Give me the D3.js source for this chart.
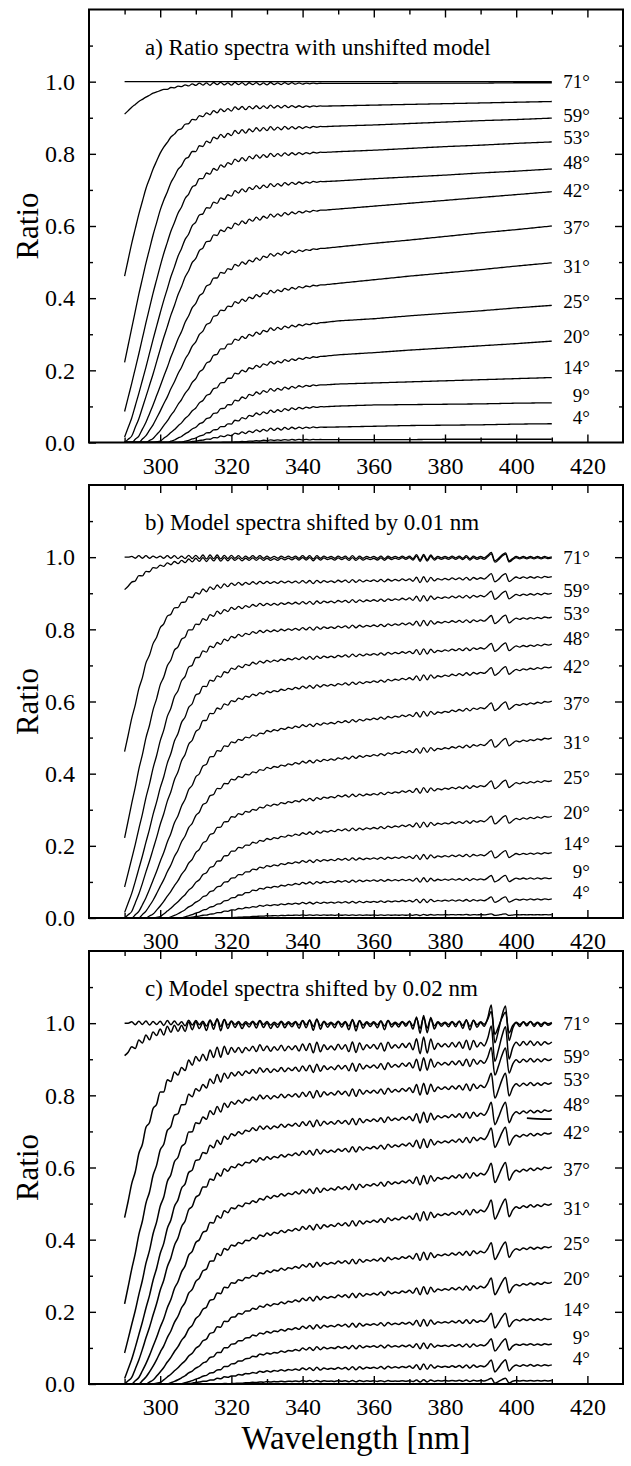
<!DOCTYPE html>
<html>
<head>
<meta charset="utf-8">
<script src="https://cdn.jsdelivr.net/npm/d3@7"></script>
<style>
html, body { margin: 0; padding: 0; background: #fff; }
svg { display: block; }
svg text { font-family: "Liberation Serif", "Times New Roman", serif; fill: #000; }
</style>
</head>
<body>
<svg width="631" height="1466"></svg>
<script>
var gridWl = [290, 292, 294, 296, 298, 300, 302, 304, 306, 308, 310, 312, 314, 316, 318, 320,
              322, 324, 326, 328, 330, 340, 350, 360, 370, 380, 390, 400, 410];

// smooth ratio curves (same underlying shape in all three panels)
var base71 = [1, 1, 1, 1, 1, 1, 1, 1, 1, 1, 1, 1, 1, 1, 1, 1, 1, 1, 1, 1, 1, 1, 1, 1, 1, 1, 1, 1, 1];
var baseU1 = [.910, .929, .945, .957, .968, .975, .980, .984, .988, .990, .992, .993, .993, .994, .994, .994,
              .994, .994, .994, .994, .994, .995, .995, .995, .996, .996, .996, .997, .997];
var baseU2 = [.461, .552, .633, .704, .758, .802, .833, .856, .872, .886, .897, .906, .912, .917, .921, .923,
              .926, .927, .928, .929, .930, .931, .933, .935, .937, .939, .941, .943, .945];
var base59 = [.222, .317, .411, .497, .575, .644, .696, .739, .770, .794, .810, .824, .835, .845, .850, .856,
              .860, .863, .865, .868, .869, .873, .877, .880, .884, .888, .892, .895, .899];
var base53 = [.086, .164, .246, .332, .414, .489, .556, .611, .655, .691, .717, .735, .748, .758, .768, .776,
              .782, .786, .790, .793, .795, .801, .806, .810, .815, .820, .824, .829, .833];
var base48 = [.015, .068, .136, .209, .286, .359, .427, .488, .540, .580, .614, .637, .654, .666, .678, .688,
              .695, .700, .705, .708, .711, .720, .725, .731, .736, .741, .747, .752, .758];
var base42 = [0, .018, .066, .127, .190, .258, .322, .381, .434, .478, .513, .542, .562, .577, .589, .598,
              .606, .612, .617, .621, .626, .639, .647, .655, .663, .671, .679, .687, .695];
var base37 = [0, 0, .018, .056, .104, .156, .209, .262, .309, .353, .388, .417, .442, .459, .473, .484,
              .492, .499, .504, .509, .517, .532, .542, .552, .561, .571, .581, .590, .600];
var base31 = [0, 0, 0, .019, .049, .087, .127, .169, .210, .248, .281, .311, .335, .355, .369, .381,
              .389, .396, .402, .408, .415, .431, .441, .451, .461, .470, .479, .489, .498];
var base25 = [0, 0, 0, 0, .011, .033, .060, .089, .120, .150, .179, .205, .228, .247, .263, .277,
              .286, .293, .298, .304, .311, .326, .337, .343, .351, .358, .365, .373, .380];
var base20 = [0, 0, 0, 0, 0, .004, .019, .036, .055, .076, .097, .118, .137, .154, .169, .182,
              .193, .200, .207, .212, .218, .233, .243, .249, .256, .262, .268, .274, .281];
var base14 = [0, 0, 0, 0, 0, 0, 0, .007, .017, .030, .043, .057, .071, .084, .097, .108,
              .118, .126, .133, .138, .143, .156, .162, .165, .168, .171, .174, .177, .180];
var base09 = [0, 0, 0, 0, 0, 0, 0, 0, .001, .006, .013, .021, .029, .037, .046, .054,
              .062, .069, .075, .080, .084, .096, .101, .104, .105, .106, .107, .109, .110];
var base04 = [0, 0, 0, 0, 0, 0, 0, 0, 0, .001, .004, .007, .010, .014, .018, .021,
              .025, .028, .030, .033, .035, .041, .043, .045, .047, .048, .049, .051, .052];
var base00 = [0, 0, 0, 0, 0, 0, 0, 0, 0, 0, 0, 0, 0, 0, .001, .001,
              .002, .003, .004, .005, .006, .008, .008, .008, .008, .009, .009, .009, .009];

var series = [base71, baseU1, baseU2, base59, base53, base48, base42, base37, base31,
              base25, base20, base14, base09, base04, base00];

// residual structure read per 1 nm, 290..410 nm
var rippleA = [
  0, 0, 0, 0, 0, 0, 0, 0, 0, 0,
  0, .002, -.002, .003, -.002, .003, -.003, .004, -.003, .005,
  -.004, .006, -.004, .006, -.005, .007, -.004, .007, -.005, .004,
  -.006, .007, -.004, .006, -.006, .005, -.004, .006, -.005, .004,
  -.005, .006, -.004, .004, -.004, .005, -.003, .004, -.003, .003,
  -.003, .002, -.002, .002, -.001, .001, 0, 0, 0, 0,
  0, 0, 0, 0, 0, 0, 0, 0, 0, 0,
  0, 0, 0, 0, 0, 0, 0, 0, 0, 0,
  0, 0, 0, 0, 0, 0, 0, 0, 0, 0,
  0, 0, 0, 0, 0, 0, 0, 0, 0, 0,
  0, 0, 0, 0, 0, 0, 0, 0, 0, 0,
  0, 0, 0, 0, 0, 0, 0, 0, 0, 0,
  0];
var noiseB = [
  0, 0, .002, -.003, .004, -.003, .004, -.003, .003, -.002,
  .003, -.003, .004, -.003, .004, -.004, .003, -.004, .005, -.004,
  .005, -.004, .006, -.005, .006, -.004, .006, -.005, .005, -.004,
  .005, -.003, .004, -.004, .003, -.003, .004, -.003, .004, -.003,
  .003, -.003, .002, -.003, .003, -.002, .003, -.002, .003, -.003,
  .004, -.003, .004, -.005, .004, -.003, .003, -.002, .002, -.003,
  .003, -.002, .003, -.004, .004, -.004, .003, -.003, .002, -.002,
  .002, -.003, .003, -.004, .003, -.002, .002, -.002, .003, -.002,
  .003, -.004, .007, -.008, .008, -.007, .006, -.004, .002, -.002,
  .002, -.002, .003, -.002, .003, -.003, .004, -.004, .003, -.002,
  .002, -.002, .005, .013, -.010, -.004, .006, .012, -.010, -.004,
  .002, -.002, .002, -.002, .002, -.002, .002, -.002, .002, -.001,
  .001];
var noiseC = [
  0, 0, .004, -.005, .006, -.004, .007, -.006, .005, -.004,
  .006, -.007, .008, -.005, .007, -.006, .004, -.008, .009, -.006,
  .008, -.005, .006, -.009, .010, -.007, .012, -.010, .011, -.006,
  .007, -.004, .005, -.006, .004, -.003, .006, -.005, .008, -.004,
  .005, -.006, .003, -.004, .006, -.005, .004, -.003, .005, -.006,
  .008, -.005, .009, -.010, .011, -.008, .006, -.004, .003, -.005,
  .006, -.004, .005, -.009, .010, -.011, .008, -.006, .004, -.003,
  .004, -.005, .007, -.009, .008, -.004, .003, -.004, .005, -.003,
  .006, -.008, .014, -.016, .017, -.015, .013, -.008, .004, -.003,
  .003, -.004, .005, -.004, .006, -.007, .009, -.010, .008, -.005,
  .004, -.003, .012, .036, -.034, -.012, .016, .034, -.030, -.008,
  .003, -.004, .004, -.003, .005, -.004, .003, -.004, .003, -.002,
  .002];

// how strongly each curve carries the residual, per panel
var ampA = [0, .6, .8, 1, 1, 1, 1, 1, 1, 1, 1, 1, 1, 1, .3];
var ampB = [1, 1, 1, 1, 1, 1, 1, 1, 1, 1, 1, .9, .8, .7, .2];
var ampC = [.9, 1.5, 1.4, 1.1, 1, .9, .8, .8, .8, .7, .7, .6, .5, .5, .2];

// short stray trace near 48 deg in panel c
var strayWl = [403, 406, 410];
var strayVal = [.737, .735, .734];

var angleLabels = ["71°", "59°", "53°", "48°", "42°", "37°", "31°", "25°", "20°", "14°", "9°", "4°"];
var labelVals = [1.0, .908, .845, .776, .698, .596, .488, .391, .294, .208, .130, .070];

var panelTitles = ["a) Ratio spectra with unshifted model",
                   "b) Model spectra shifted by 0.01 nm",
                   "c) Model spectra shifted by 0.02 nm"];

var xMajor = [300, 320, 340, 360, 380, 400, 420];
var xMinor = [290, 310, 330, 350, 370, 390, 410];
var yMajor = [0, 0.2, 0.4, 0.6, 0.8, 1.0];
var yMinor = [0.1, 0.3, 0.5, 0.7, 0.9, 1.1];

var noises = [rippleA, noiseB, noiseC];
var amps = [ampA, ampB, ampC];

var svg = d3.select("svg"),
    left = 89,
    width = 534,
    height = 433,
    panelTops = [9.5, 485, 951];

var x = d3.scaleLinear().domain([280, 430]).range([0, width]);
var y = d3.scaleLinear().domain([0, 1.2]).range([height, 0]);

var line = d3.line()
    .x(function (d) { return x(d[0]); })
    .y(function (d) { return y(d[1]); })
    .curve(d3.curveMonotoneX);

function styleAxis(sel, fontSize) {
    sel.select(".domain").remove();
    sel.attr("font-family", null).attr("font-size", null);
    sel.selectAll("line").attr("stroke", "#000").attr("stroke-width", 1.4);
    sel.selectAll("text").attr("fill", "#000").style("font-size", fontSize + "px");
}

panelTops.forEach(function (top, p) {
    var g = svg.append("g").attr("transform", "translate(" + left + "," + top + ")");

    g.append("clipPath").attr("id", "clip" + p)
        .append("rect").attr("width", width).attr("height", height);

    var plot = g.append("g").attr("clip-path", "url(#clip" + p + ")");

    series.forEach(function (vals, k) {
        var baseAt = d3.scaleLinear().domain(gridWl).range(vals);
        var end = vals[vals.length - 1];
        var pts = d3.range(290, 411).map(function (wl, i) {
            var b = baseAt(wl);
            var w = end > 0 ? Math.min(1, b / end) : 0;
            return [wl, b + noises[p][i] * amps[p][k] * w];
        });
        plot.append("path")
            .attr("d", line(pts))
            .attr("fill", "none")
            .attr("stroke", "#000")
            .attr("stroke-width", p === 2 ? 1.5 : 1.3)
            .attr("stroke-linejoin", "round");
    });

    if (p === 2) {
        plot.append("path")
            .attr("d", line(strayWl.map(function (w, i) { return [w, strayVal[i]]; })))
            .attr("fill", "none").attr("stroke", "#000").attr("stroke-width", 1.8);
    }

    // frame
    g.append("rect").attr("width", width).attr("height", height)
        .attr("fill", "none").attr("stroke", "#000").attr("stroke-width", 2);

    // inward ticks on all four sides
    g.append("g").attr("transform", "translate(0," + height + ")")
        .call(d3.axisBottom(x).tickValues(xMajor).tickSizeInner(-8).tickSizeOuter(0)
            .tickPadding(14).tickFormat(d3.format("d")))
        .call(styleAxis, 24);
    g.append("g").attr("transform", "translate(0," + height + ")")
        .call(d3.axisBottom(x).tickValues(xMinor).tickSizeInner(-5).tickSizeOuter(0).tickFormat(""))
        .call(styleAxis, 24);
    g.append("g")
        .call(d3.axisTop(x).tickValues(xMajor).tickSizeInner(-8).tickSizeOuter(0).tickFormat(""))
        .call(styleAxis, 24);
    g.append("g")
        .call(d3.axisTop(x).tickValues(xMinor).tickSizeInner(-5).tickSizeOuter(0).tickFormat(""))
        .call(styleAxis, 24);
    g.append("g")
        .call(d3.axisLeft(y).tickValues(yMajor).tickSizeInner(-7).tickSizeOuter(0)
            .tickPadding(14).tickFormat(d3.format(".1f")))
        .call(styleAxis, 24);
    g.append("g")
        .call(d3.axisLeft(y).tickValues(yMinor).tickSizeInner(-4).tickSizeOuter(0).tickFormat(""))
        .call(styleAxis, 24);
    g.append("g").attr("transform", "translate(" + width + ",0)")
        .call(d3.axisRight(y).tickValues(yMajor.slice(1)).tickSizeInner(-8).tickSizeOuter(0).tickFormat(""))
        .call(styleAxis, 24);
    g.append("g").attr("transform", "translate(" + width + ",0)")
        .call(d3.axisRight(y).tickValues(yMinor).tickSizeInner(-4).tickSizeOuter(0).tickFormat(""))
        .call(styleAxis, 24);

    // curve labels
    g.append("g").selectAll("text")
        .data(angleLabels)
        .enter().append("text")
        .attr("x", x(410) + 38)
        .attr("y", function (d, i) { return y(labelVals[i]); })
        .attr("dy", "0.35em")
        .attr("text-anchor", "end")
        .style("font-size", "19px")
        .text(function (d) { return d; });

    g.append("text")
        .attr("x", 56)
        .attr("y", 45)
        .style("font-size", "23px")
        .text(panelTitles[p]);

    svg.append("text")
        .attr("transform", "translate(27," + (top + height / 2) + ") rotate(-90)")
        .attr("text-anchor", "middle")
        .attr("dy", "0.35em")
        .style("font-size", "31px")
        .text("Ratio");
});

svg.append("text")
    .attr("x", left + width / 2)
    .attr("y", 1449)
    .attr("text-anchor", "middle")
    .style("font-size", "33px")
    .text("Wavelength [nm]");
</script>
</body>
</html>
